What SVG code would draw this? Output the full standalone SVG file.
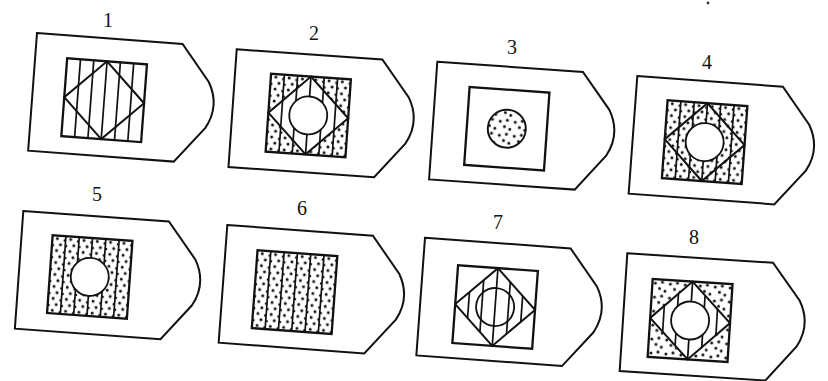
<svg xmlns="http://www.w3.org/2000/svg" xmlns:xlink="http://www.w3.org/1999/xlink" width="828" height="381" viewBox="0 0 828 381">
<style>
.card{fill:#fff;stroke:#111;stroke-width:2;stroke-linejoin:miter}
.sq{fill:none;stroke:#111;stroke-width:2.3}
.ln{stroke:#111;stroke-width:1.7;fill:none}
.dia{fill:none;stroke:#111;stroke-width:2;stroke-linejoin:miter}
.circ{fill:#fff;stroke:#111;stroke-width:1.8}
.circo{fill:none;stroke:#111;stroke-width:1.8}
.lbl{font-family:"Liberation Serif","DejaVu Serif",serif;font-size:20px;fill:#111;text-anchor:middle}
</style>
<defs>
<pattern id="stripdots" patternUnits="userSpaceOnUse" x="0" y="0" width="13.333" height="12">
<circle cx="5" cy="3" r="1.5" fill="#111"/>
<circle cx="8.5" cy="9" r="1.5" fill="#111"/>
<circle cx="12.4" cy="4.5" r="1.2" fill="#111"/>
<circle cx="1" cy="10" r="1.2" fill="#111"/>
</pattern>
<pattern id="scatter" patternUnits="userSpaceOnUse" x="0" y="0" width="15" height="14">
<circle cx="3" cy="4" r="1.5" fill="#111"/>
<circle cx="10" cy="2.5" r="1.5" fill="#111"/>
<circle cx="7.5" cy="9" r="1.5" fill="#111"/>
<circle cx="13" cy="11.5" r="1.4" fill="#111"/>
</pattern>
<path id="cardShape" d="M0,0 L146,0 L175,36 Q188,59 175,82 L146,118 L0,118 Z"/>
<g id="lines">
<line x1="13.33" y1="0" x2="13.33" y2="78"/>
<line x1="26.67" y1="0" x2="26.67" y2="78"/>
<line x1="40" y1="0" x2="40" y2="78"/>
<line x1="53.33" y1="0" x2="53.33" y2="78"/>
<line x1="66.67" y1="0" x2="66.67" y2="78"/>
</g>
<polygon id="diaShape" points="40,0 80,39 40,78 0,39"/>
<clipPath id="clipDia"><polygon points="40,0 80,39 40,78 0,39"/></clipPath>
</defs>

<g id="labels">
<text class="lbl" x="108" y="27">1</text>
<text class="lbl" x="314" y="40">2</text>
<text class="lbl" x="512" y="54">3</text>
<text class="lbl" x="707" y="69">4</text>
<text class="lbl" x="97" y="201">5</text>
<text class="lbl" x="302" y="215">6</text>
<text class="lbl" x="498" y="229">7</text>
<text class="lbl" x="694" y="244">8</text>
<circle cx="708" cy="3" r="1.4" fill="#333"/>
</g>

<g id="fig1" transform="translate(37,33) rotate(4.3)">
<use xlink:href="#cardShape" class="card"/>
<g transform="translate(32,23)">
<use xlink:href="#lines" class="ln"/>
<use xlink:href="#diaShape" class="dia"/>
<rect x="0" y="0" width="80" height="78" class="sq"/>
</g>
</g>

<g id="fig2" transform="translate(236.7,49.3) rotate(4)">
<use xlink:href="#cardShape" class="card"/>
<g transform="translate(36,22)">
<rect x="0" y="0" width="80" height="78" fill="url(#stripdots)"/>
<use xlink:href="#diaShape" fill="#fff"/>
<use xlink:href="#lines" class="ln"/>
<circle cx="40" cy="39" r="19" class="circ"/>
<use xlink:href="#diaShape" class="dia"/>
<rect x="0" y="0" width="80" height="78" class="sq"/>
</g>
</g>

<g id="fig3" transform="translate(437.3,61.7) rotate(4)">
<use xlink:href="#cardShape" class="card"/>
<g transform="translate(34,23)">
<circle cx="40" cy="39" r="19" fill="#fff"/>
<circle cx="40" cy="39" r="19" fill="url(#scatter)" stroke="#111" stroke-width="1.9"/>
<rect x="0" y="0" width="80" height="78" class="sq"/>
</g>
</g>

<g id="fig4" transform="translate(637.3,76) rotate(4.2)">
<use xlink:href="#cardShape" class="card"/>
<g transform="translate(32,22)">
<rect x="0" y="0" width="80" height="78" fill="url(#stripdots)"/>
<use xlink:href="#lines" class="ln"/>
<circle cx="40" cy="39" r="19" class="circ"/>
<use xlink:href="#diaShape" class="dia"/>
<rect x="0" y="0" width="80" height="78" class="sq"/>
</g>
</g>

<g id="fig5" transform="translate(23.3,211) rotate(4.1)">
<use xlink:href="#cardShape" class="card"/>
<g transform="translate(31,22)">
<rect x="0" y="0" width="80" height="78" fill="url(#stripdots)"/>
<use xlink:href="#lines" class="ln"/>
<circle cx="40" cy="39" r="19" class="circ"/>
<rect x="0" y="0" width="80" height="78" class="sq"/>
</g>
</g>

<g id="fig6" transform="translate(227.3,225) rotate(4.2)">
<use xlink:href="#cardShape" class="card"/>
<g transform="translate(32,23)">
<rect x="0" y="0" width="80" height="78" fill="url(#stripdots)"/>
<use xlink:href="#lines" class="ln"/>
<rect x="0" y="0" width="80" height="78" class="sq"/>
</g>
</g>

<g id="fig7" transform="translate(425,237.7) rotate(4.2)">
<use xlink:href="#cardShape" class="card"/>
<g transform="translate(35,25)">
<g clip-path="url(#clipDia)"><use xlink:href="#lines" class="ln"/></g>
<circle cx="40" cy="39" r="19" class="circo"/>
<use xlink:href="#diaShape" class="dia"/>
<rect x="0" y="0" width="80" height="78" class="sq"/>
</g>
</g>

<g id="fig8" transform="translate(627.3,253.3) rotate(3.7)">
<use xlink:href="#cardShape" class="card"/>
<g transform="translate(27,24)">
<rect x="0" y="0" width="80" height="78" fill="url(#scatter)"/>
<use xlink:href="#diaShape" fill="#fff"/>
<g clip-path="url(#clipDia)"><use xlink:href="#lines" class="ln"/></g>
<circle cx="40" cy="39" r="19" class="circ"/>
<use xlink:href="#diaShape" class="dia"/>
<rect x="0" y="0" width="80" height="78" class="sq"/>
</g>
</g>

<g id="connectors"/>
</svg>
